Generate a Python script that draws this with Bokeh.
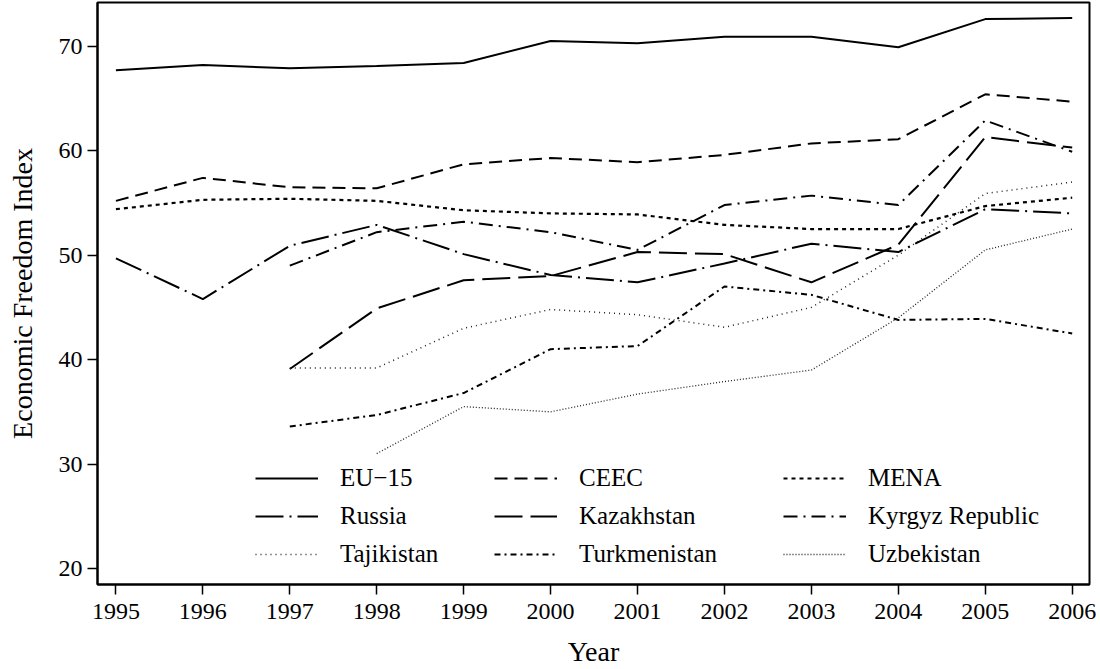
import math
from bokeh.plotting import figure
from bokeh.models import Range1d, FixedTicker, Legend, LegendItem
from bokeh.embed import file_html
from bokeh.resources import INLINE

NaN = float("nan")

years = [1995, 1996, 1997, 1998, 1999, 2000, 2001, 2002, 2003, 2004, 2005, 2006]

eu15 = [67.7, 68.2, 67.9, 68.1, 68.4, 70.5, 70.3, 70.9, 70.9, 69.9, 72.6, 72.7]
ceec = [55.2, 57.4, 56.5, 56.4, 58.7, 59.3, 58.9, 59.6, 60.7, 61.1, 65.4, 64.7]
mena = [54.4, 55.3, 55.4, 55.2, 54.3, 54.0, 53.9, 52.9, 52.5, 52.5, 54.7, 55.5]
russia = [49.7, 45.8, 50.9, 52.9, 50.1, 48.1, 47.4, 49.2, 51.1, 50.3, 54.4, 54.0]
kazakhstan = [NaN, NaN, 39.1, 44.9, 47.6, 48.0, 50.3, 50.1, 47.4, 51.0, 61.3, 60.3]
kyrgyz = [NaN, NaN, 49.0, 52.2, 53.2, 52.2, 50.5, 54.8, 55.7, 54.8, 62.9, 59.9]
tajikistan = [NaN, NaN, 39.2, 39.2, 43.0, 44.8, 44.3, 43.1, 45.0, 50.0, 55.9, 57.0]
turkmenistan = [NaN, NaN, 33.6, 34.7, 36.8, 41.0, 41.3, 47.0, 46.2, 43.8, 43.9, 42.5]
uzbekistan = [NaN, NaN, NaN, 31.0, 35.5, 35.0, 36.7, 37.9, 39.0, 44.0, 50.5, 52.5]

names = ["EU\u221215", "CEEC", "MENA", "Russia", "Kazakhstan", "Kyrgyz Republic",
         "Tajikistan", "Turkmenistan", "Uzbekistan"]
series = [eu15, ceec, mena, russia, kazakhstan, kyrgyz, tajikistan, turkmenistan, uzbekistan]

y_ticks = [20, 30, 40, 50, 60, 70]

styles = [
    dict(line_dash="solid", line_width=2, line_color="black"),
    dict(line_dash="13 7", line_width=2, line_color="black"),
    dict(line_dash="4 4", line_width=2.2, line_color="black"),
    dict(line_dash="28 6 2 6", line_width=2, line_color="black"),
    dict(line_dash="28 8", line_width=2, line_color="black"),
    dict(line_dash="14 6 2 6", line_width=2, line_color="black"),
    dict(line_dash="1 4", line_width=1.5, line_color="#222222"),
    dict(line_dash="6 4 2 4", line_width=2, line_color="black"),
    dict(line_dash="1 2", line_width=1.3, line_color="#222222"),
]

FONT = "Liberation Serif"

p = figure(width=1100, height=669, output_backend="svg", toolbar_location=None,
           x_range=Range1d(1994.788, 2006.199), y_range=Range1d(18.47, 74.19),
           min_border_left=97, min_border_right=11, min_border_top=2, min_border_bottom=82)

p.outline_line_color = "black"
p.outline_line_width = 2
p.xgrid.visible = False
p.ygrid.visible = False
p.background_fill_color = "white"
p.border_fill_color = "white"

renderers = []
for ys, st in zip(series, styles):
    r = p.line(years, ys, **st)
    renderers.append(r)

p.xaxis.ticker = FixedTicker(ticks=years)
p.yaxis.ticker = FixedTicker(ticks=y_ticks)
for ax in (p.xaxis, p.yaxis):
    ax.minor_tick_line_color = None
    ax.major_tick_in = 0
    ax.major_tick_out = 10
    ax.major_tick_line_width = 1.5
    ax.major_tick_line_color = "black"
    ax.axis_line_width = 2
    ax.axis_line_color = "black"
    ax.major_label_text_font = FONT
    ax.major_label_text_font_size = "24px"
    ax.major_label_text_color = "black"
    ax.axis_label_text_font = FONT
    ax.axis_label_text_font_size = "28px"
    ax.axis_label_text_font_style = "normal"
    ax.axis_label_text_color = "black"

p.xaxis.axis_label = "Year"
p.yaxis.axis_label = "Economic Freedom Index"
p.xaxis.major_label_standoff = 9
p.xaxis.axis_label_standoff = 14
p.yaxis.major_label_standoff = 5
p.yaxis.axis_label_standoff = 18

col_x = [158, 397, 686]
for c in range(3):
    items = [LegendItem(label=names[c + 3 * r], renderers=[renderers[c + 3 * r]]) for r in range(3)]
    leg = Legend(items=items, location=(col_x[c], 16),
                 glyph_width=63, glyph_height=20, label_standoff=22,
                 label_text_font=FONT, label_text_font_size="25px", label_text_color="black",
                 spacing=10, padding=0, margin=0,
                 border_line_color=None, background_fill_alpha=0)
    p.add_layout(leg, "center")

open("out.html", "w").write(file_html(p, INLINE))
